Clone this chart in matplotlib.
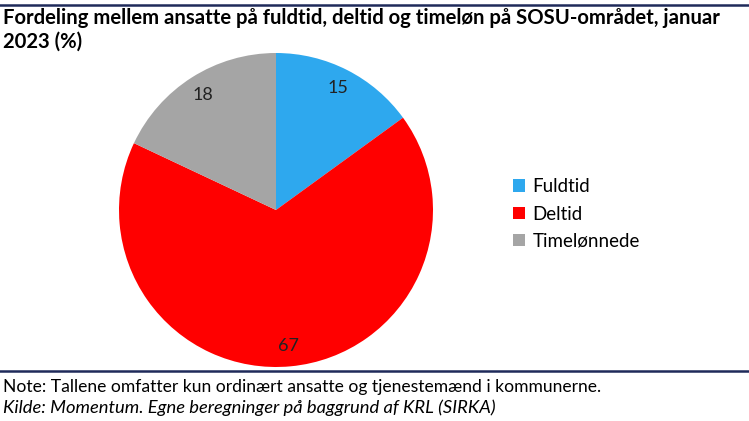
import matplotlib
matplotlib.use("Agg")
import matplotlib.pyplot as plt
from matplotlib.lines import Line2D
from matplotlib.patches import Patch

categories = ["Fuldtid", "Deltid", "Timelønnede"]
values = [15, 67, 18]
colors = ["#2EA8EE", "#FF0000", "#A5A5A5"]

title = "Fordeling mellem ansatte på fuldtid, deltid og timeløn på SOSU-området, januar\n2023 (%)"
note = "Note: Tallene omfatter kun ordinært ansatte og tjenestemænd i kommunerne."
source = "Kilde: Momentum. Egne beregninger på baggrund af KRL (SIRKA)"

plt.rcParams["font.family"] = ["Lato", "DejaVu Sans"]

W, H = 749, 421
fig = plt.figure(figsize=(W / 100, H / 100), dpi=100)

# pie axes: center (276,210), radius 157 px
r = 157
cx, cy = 276, 210
ax = fig.add_axes([(cx - r) / W, 1 - (cy + r) / H, 2 * r / W, 2 * r / H])
wedges, texts = ax.pie(values, colors=colors, startangle=90, counterclock=False,
                       labels=[str(v) for v in values], labeldistance=0.87,
                       radius=1.0, wedgeprops=dict(linewidth=0))
for t in texts:
    t.set_fontsize(13)
    t.set_color("#222222")
    t.set_ha("center")
    t.set_va("center")
ax.set_xlim(-1, 1)
ax.set_ylim(-1, 1)
ax.set_aspect("equal")
ax.axis("off")

handles = [Patch(facecolor=c, edgecolor="none") for c in colors]
fig.legend(handles, categories, loc="center left", bbox_to_anchor=(513 / W, 1 - 214 / H),
           frameon=False, fontsize=13.5, handlelength=0.65, handleheight=0.65,
           handletextpad=0.4, labelspacing=0.55, borderpad=0, borderaxespad=0)

line_color = "#1F2A5A"
fig.add_artist(Line2D([0, 1], [1 - 5 / H, 1 - 5 / H], color=line_color, lw=1.8))
fig.add_artist(Line2D([0, 1], [1 - 371 / H, 1 - 371 / H], color=line_color, lw=1.8))

fig.text(3 / W, 1 - 8 / H, title, fontsize=14.6, fontweight="bold", va="top", ha="left",
         linespacing=1.25, color="#000000")
fig.text(3 / W, 1 - 387 / H, note, fontsize=12.6, va="center", ha="left", color="#000000")
fig.text(3 / W, 1 - 408 / H, source, fontsize=13.2, va="center", ha="left", style="italic",
         color="#000000")

fig.savefig("out.png", dpi=100)
